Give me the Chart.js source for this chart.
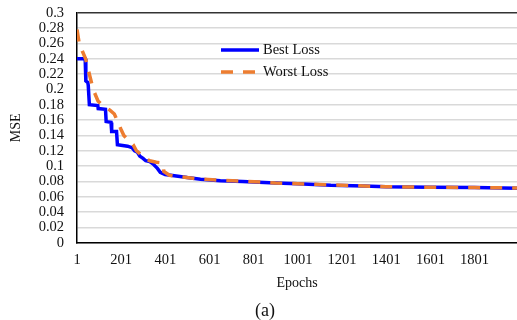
<!DOCTYPE html>
<html lang="en">
<head>
  <meta charset="UTF-8">
  <title>Best / Worst Loss</title>
  <script src="https://cdn.jsdelivr.net/npm/chart.js"></script>
  <style>
    body { margin: 0; background: #fff; }
    #wrap { position: relative; width: 517px; height: 320px; overflow: hidden; }
    #lossChart { position: absolute; left: 0; top: -9px; }
    #caption {
      position: absolute; left: 0; top: 300px; width: 530px;
      text-align: center; font: 18px "Liberation Serif", serif; color: #111;
    }
  </style>
</head>
<body>
  <div id="wrap">
    <canvas id="lossChart" width="517" height="329"></canvas>
    <div id="caption">(a)</div>
  </div>

  <script>
    // values
    const xTicks = [1, 201, 401, 601, 801, 1001, 1201, 1401, 1601, 1801];
    const yTicks = [0, 0.02, 0.04, 0.06, 0.08, 0.1, 0.12, 0.14, 0.16, 0.18, 0.2, 0.22, 0.24, 0.26, 0.28, 0.3];

    const bestEpochs = [1, 38, 41, 50, 52, 55, 57, 95, 97, 130, 133, 155, 158, 180, 184, 230, 250, 262, 275, 285,
      300, 312, 330, 345, 355, 365, 378, 400, 450, 500, 560, 650, 750, 900, 1000, 1150, 1300, 1400, 1600, 1800, 2000];
    const bestLoss = [0.24, 0.24, 0.211, 0.209, 0.205, 0.205, 0.18, 0.179, 0.175, 0.174, 0.158, 0.157, 0.145, 0.145, 0.128, 0.126, 0.124, 0.12, 0.118, 0.113,
      0.11, 0.107, 0.106, 0.103, 0.1, 0.097, 0.092, 0.089, 0.087, 0.085, 0.083, 0.081, 0.08, 0.078, 0.077, 0.075, 0.074, 0.073, 0.0725, 0.072, 0.0712];

    const worstEpochs = [1, 10, 25, 40, 55, 70, 80, 96, 120, 150, 170, 185, 200, 213, 236, 255, 270, 290, 305, 330,
      360, 390, 394, 420, 470, 516, 560, 650, 750, 900, 1000, 1150, 1300, 1400, 1600, 1800, 2000];
    const worstLoss = [0.278, 0.262, 0.25, 0.24, 0.222, 0.205, 0.196, 0.185, 0.178, 0.173, 0.168, 0.158, 0.148, 0.14, 0.133, 0.128, 0.12, 0.115, 0.11, 0.107,
      0.105, 0.104, 0.093, 0.088, 0.086, 0.0845, 0.083, 0.0815, 0.0805, 0.078, 0.077, 0.0755, 0.074, 0.073, 0.0725, 0.072, 0.0715];

    const toPoints = (xs, ys) => xs.map((x, i) => ({ x: x, y: ys[i] }));

    const serif = '"Liberation Serif", "Times New Roman", serif';

    // legend drawn inside the plot, like the original
    const innerLegend = {
      id: 'innerLegend',
      afterDraw(chart) {
        const ctx = chart.ctx;
        const x0 = 221, len = 38, rows = [59, 81];
        chart.data.datasets.forEach((ds, i) => {
          const y = rows[i];
          ctx.save();
          ctx.strokeStyle = ds.borderColor;
          ctx.lineWidth = ds.borderWidth;
          ctx.setLineDash(ds.borderDash || []);
          ctx.beginPath();
          ctx.moveTo(x0, y);
          ctx.lineTo(x0 + len, y);
          ctx.stroke();
          ctx.setLineDash([]);
          ctx.fillStyle = '#111';
          ctx.font = '14.5px ' + serif;
          ctx.textBaseline = 'middle';
          ctx.fillText(ds.label, x0 + len + 4, y);
          ctx.restore();
        });
      }
    };

    new Chart(document.getElementById('lossChart'), {
      type: 'line',
      data: {
        datasets: [{
          label: 'Best Loss',
          data: toPoints(bestEpochs, bestLoss),
          borderColor: '#0000ff',
          borderWidth: 3.5,
          pointRadius: 0,
          order: 1
        }, {
          label: 'Worst Loss',
          data: toPoints(worstEpochs, worstLoss),
          borderColor: '#ed7d31',
          borderWidth: 3.5,
          borderDash: [12, 10],
          pointRadius: 0,
          order: 0
        }]
      },
      options: {
        responsive: false,
        animation: false,
        layout: { padding: { left: 8, top: 0, right: 0, bottom: 28 } },
        plugins: { legend: { display: false }, tooltip: { enabled: false } },
        scales: {
          x: {
            type: 'linear',
            min: 1,
            max: 1993,
            afterBuildTicks: (scale) => { scale.ticks = xTicks.map(v => ({ value: v })); },
            grid: { display: false, drawTicks: false },
            border: { color: '#000', width: 1.5 },
            ticks: {
              font: { family: serif, size: 14.5 }, color: '#111', padding: 9, maxRotation: 0, autoSkip: false,
              callback: (v) => String(v)
            },
            title: { display: true, text: 'Epochs', font: { family: serif, size: 14 }, color: '#111', padding: { top: -3, bottom: 0 } }
          },
          y: {
            min: 0,
            max: 0.3,
            afterBuildTicks: (scale) => { scale.ticks = yTicks.map(v => ({ value: v })); },
            afterFit: (scale) => { scale.width = 69; },
            grid: {
              drawTicks: false,
              color: (c) => (c.tick && c.tick.value === 0.3 ? '#333' : '#d9d9d9'),
              lineWidth: 1.5
            },
            border: { color: '#000', width: 1.5 },
            ticks: {
              font: { family: serif, size: 14.5 },
              color: '#111',
              padding: 13,
              autoSkip: false,
              callback: (v) => String(Math.round(v * 100) / 100)
            },
            title: { display: true, text: 'MSE', font: { family: serif, size: 14 }, color: '#111', padding: 0 }
          }
        }
      },
      plugins: [innerLegend]
    });
  </script>
</body>
</html>
